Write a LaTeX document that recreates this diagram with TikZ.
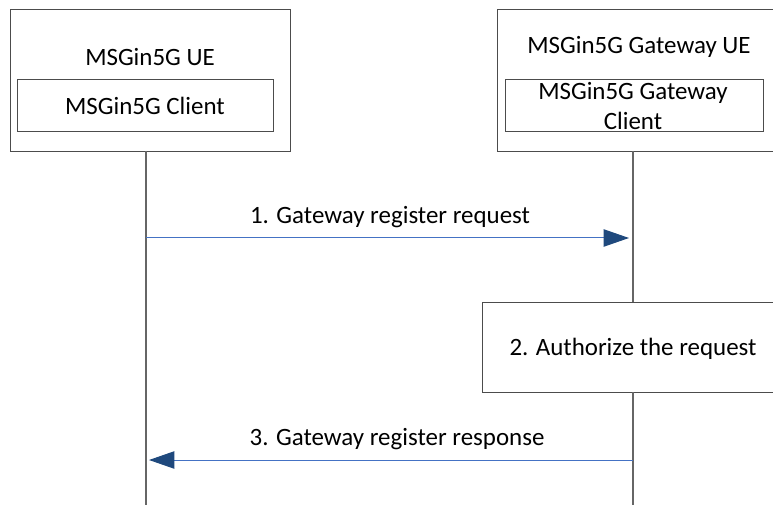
\documentclass[tikz,border=0pt]{standalone}
\usepackage{fontspec}
\setmainfont{Carlito}
\usetikzlibrary{arrows.meta}
\definecolor{msgline}{RGB}{68,114,196}
\definecolor{msghead}{RGB}{31,73,125}
\tikzset{
  lbl/.style={font=\fontsize{18.7}{22.5}\selectfont, inner sep=0pt, align=center},
  msg/.style={draw=msgline, line width=0.75pt, -{Triangle[length=19pt, width=13pt, fill=msghead, color=msghead]}},
  life/.style={draw=black!60, line width=0.8pt}
}
\begin{document}
\begin{tikzpicture}[x=0.75pt, y=-0.75pt]
	\useasboundingbox (0,0) rectangle (773,505);
	\fill[white] (0,0) rectangle (773,505);

	% UE side
	\draw[black!70] (10,9) rectangle (290,151);
	\draw[black!70] (17,79) rectangle (273,131);
	\node[lbl] (ue) at (150,57) {MSGin5G UE};
	\node[lbl] (client) at (145,106) {MSGin5G Client};

	% gateway side
	\draw[black!70] (497,9) rectangle (776,151);
	\draw[black!70] (505,79) rectangle (763,131);
	\node[lbl] (gwue) at (639,47) {MSGin5G Gateway UE};
	\node[lbl] (gwclient) at (633,106) {MSGin5G Gateway\\Client};

	% authorize box
	\draw[black!70] (482,302) rectangle (776,392);
	\node[lbl] (auth) at (633,349) {2. Authorize the request};

	% lifelines
	\coordinate (ueTop) at (146,151);
	\coordinate (ueBot) at (146,505);
	\coordinate (gwTop) at (633,151);
	\coordinate (gwMid) at (633,302);
	\coordinate (gwLow) at (633,392);
	\coordinate (gwBot) at (633,505);
	\draw[life] (ueTop) -- (ueBot);
	\draw[life] (gwTop) -- (gwMid);
	\draw[life] (gwLow) -- (gwBot);

	% messages
	\coordinate (reqS) at (146,238);
	\coordinate (reqE) at (629,238);
	\coordinate (resS) at (633,460);
	\coordinate (resE) at (149,460);
	\draw[msg] (reqS) -- (reqE);
	\node[lbl] (req) at (390,217) {1. Gateway register request};
	\draw[msg] (resS) -- (resE);
	\node[lbl] (res) at (397,439) {3. Gateway register response};
\end{tikzpicture}
\end{document}
